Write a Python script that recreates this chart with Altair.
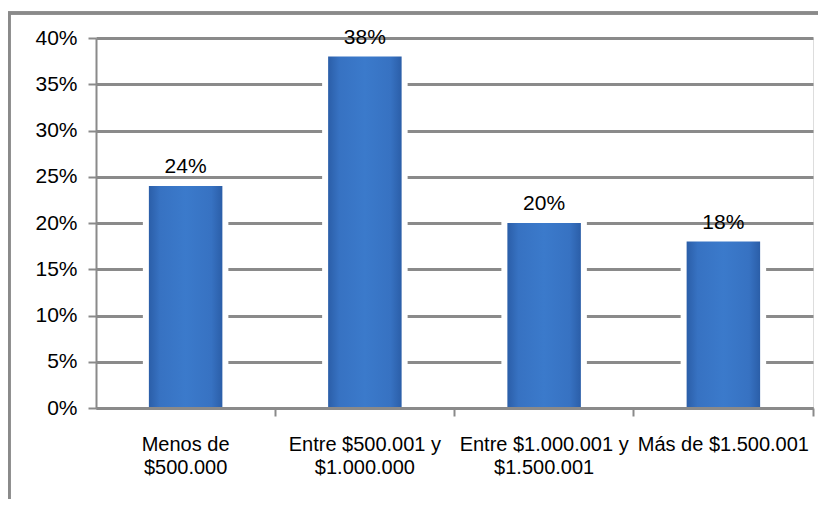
import altair as alt
import pandas as pd

categories = ["Menos de\n$500.000", "Entre $500.001 y\n$1.000.000",
              "Entre $1.000.001 y\n$1.500.001", "Más de $1.500.001"]
values = [0.24, 0.38, 0.20, 0.18]
labels = ["24%", "38%", "20%", "18%"]

df = pd.DataFrame({"cat": categories, "val": values, "lab": labels})

FONT = "Liberation Sans"
GRID = "#8a8a8a"

x = alt.X("cat:N", sort=categories, title=None,
          scale=alt.Scale(paddingInner=0, paddingOuter=0),
          axis=alt.Axis(labelAngle=0, bandPosition=1,
                        labelExpr="split(datum.label, '\\n')",
                        labelFont=FONT, labelFontSize=20, labelColor="#000",
                        labelLineHeight=23, labelPadding=18, labelBaseline="top",
                        tickSize=8, tickColor=GRID, tickWidth=2,
                        domainColor=GRID, domainWidth=3, zindex=1))
y = alt.Y("val:Q", title=None,
          scale=alt.Scale(domain=[0, 0.4], nice=False),
          axis=alt.Axis(format=".0%", values=[0, .05, .1, .15, .2, .25, .3, .35, .4],
                        labelFont=FONT, labelFontSize=21, labelColor="#000",
                        labelPadding=11, tickSize=8, tickColor=GRID, tickWidth=2,
                        domainColor=GRID, domainWidth=2,
                        grid=True, gridColor=GRID, gridWidth=3, zindex=0))

grad = alt.LinearGradient(
    gradient="linear", x1=0, x2=1, y1=0, y2=0,
    stops=[alt.GradientStop(color="#2b5ea8", offset=0),
           alt.GradientStop(color="#3772c2", offset=0.15),
           alt.GradientStop(color="#3b7acb", offset=0.5),
           alt.GradientStop(color="#3772c2", offset=0.85),
           alt.GradientStop(color="#2b5ea8", offset=1)])

base = alt.Chart(df)

halo = base.mark_bar(width=alt.RelativeBandSize(0.41), fill="white",
                     stroke="white", strokeWidth=12).encode(x=x, y=y)
bars = base.mark_bar(width=alt.RelativeBandSize(0.41), fill=grad).encode(x=x, y=y)
text = base.mark_text(font=FONT, fontSize=21, baseline="alphabetic", dy=-13,
                      color="#000").encode(x=x, y=y, text="lab:N")

frame_left = base.mark_rule(color="#8a8a8a", strokeWidth=3).encode(
    x=alt.value(-87), y=alt.value(-25), y2=alt.value(520))
frame_top = base.mark_rule(color="#8a8a8a", strokeWidth=3).encode(
    x=alt.value(-88.5), x2=alt.value(740), y=alt.value(-25))

chart = alt.layer(halo, bars, text, frame_left, frame_top).properties(
    width=717, height=370,
    autosize=alt.AutoSizeParams(type="none"),
    padding={"left": 88, "top": 30, "right": 5, "bottom": 91},
).configure_view(stroke=None).configure(background="white")

chart.save("out.html", embed_options={"renderer": "svg", "actions": False})
